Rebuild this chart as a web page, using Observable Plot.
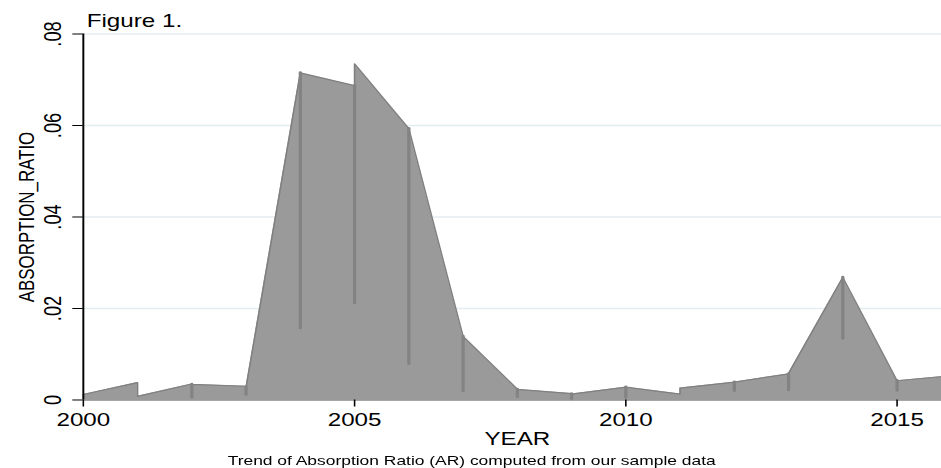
<!DOCTYPE html>
<html><head><meta charset="utf-8">
<script src="https://cdn.jsdelivr.net/npm/d3@7"></script>
<script src="https://cdn.jsdelivr.net/npm/@observablehq/plot@0.6"></script>
<style>
html,body{margin:0;padding:0;overflow:hidden;background:#fff;width:941px;height:468px}
#wrap{position:absolute;left:0;top:0;transform:scaleX(1.3);transform-origin:0 0}
</style></head><body><div id="wrap"></div>
<script>
const years  = [2000, 2001, 2002, 2003, 2004, 2005, 2006, 2007, 2008, 2009, 2010, 2011, 2012, 2013, 2014, 2015, 2016];
const arIn   = [0.0012, 0.0038, 0.0035, 0.0030, 0.0715, 0.0687, 0.0593, 0.0139, 0.0024, 0.0014, 0.0028, 0.0013, 0.0039, 0.0057, 0.0268, 0.0042, 0.0053];
const arLow  = [null,   null,   0.0005, 0.0011, 0.0156, 0.0211, 0.0078, 0.0019, 0.0006, 0.0001, 0.0005, null,   0.0019, 0.0021, 0.0134, 0.0020, null];
const arOut  = [0.0012, 0.0008, 0.0034, 0.0028, 0.0715, 0.0735, 0.0593, 0.0139, 0.0023, 0.0013, 0.0028, 0.0026, 0.0039, 0.0058, 0.0268, 0.0042, 0.0053];

const xTicks = [2000, 2005, 2010, 2015];
const yTicks = [0, 0.02, 0.04, 0.06, 0.08];
const yTickLabels = ["0", ".02", ".04", ".06", ".08"];
const titleText = ["Figure 1."];
const xLabel = ["YEAR"];
const yLabel = ["ABSORPTION_RATIO"];
const captionText = ["Trend of Absorption Ratio (AR) computed from our sample data"];

const path = [];
years.forEach((yr, i) => {
  path.push({x: yr, y: arIn[i]});
  if (arLow[i] != null) path.push({x: yr, y: arLow[i]});
  path.push({x: yr, y: arOut[i]});
});
const spikes = years
  .map((yr, i) => ({x: yr, y1: arLow[i], y2: Math.min(arIn[i], arOut[i])}))
  .filter(d => d.y1 != null);

const chart = Plot.plot({
  width: 731.3,
  height: 468,
  marginLeft: 63.6,
  marginRight: 0,
  marginTop: 33.5,
  marginBottom: 68.5,
  x: {domain: [2000, 2016]},
  y: {domain: [0, 0.08]},
  style: {fontFamily: "'Liberation Sans', Arial, Helvetica, sans-serif", background: "white", overflow: "visible", color: "black"},
  marks: [
    Plot.ruleY(yTicks.slice(1), {stroke: "#e4edf0", strokeWidth: 1.3}),
    Plot.area(path, {x1: "x", y1: () => 0, y2: "y", fill: "#9a9a9a", curve: "linear"}),
    Plot.line(path, {x: "x", y: "y", stroke: "#808080", strokeWidth: 1.2, curve: "linear"}),
    Plot.ruleX(spikes, {x: "x", y1: "y1", y2: "y2", stroke: "#838383", strokeWidth: 2.5, strokeLinecap: "round"}),
    Plot.ruleY([0], {stroke: "#8a8a8a", strokeWidth: 1.6}),
    Plot.ruleX([2000], {stroke: "black", strokeWidth: 1.5}),
    Plot.axisY({ticks: yTicks, tickSize: 8, tickPadding: 9.4, tickRotate: -90, fontSize: 18.2,
      tickFormat: d => yTickLabels[yTicks.indexOf(d)], label: null, strokeWidth: 1}),
    Plot.axisX({ticks: xTicks, tickSize: 7, tickPadding: 6.2, fontSize: 18.6,
      tickFormat: d => String(d), label: null, strokeWidth: 1.2}),
    Plot.text(yLabel, {text: d => d, frameAnchor: "left", dx: -38, rotate: -90, lineAnchor: "bottom", textAnchor: "middle", fontSize: 16.9}),
    Plot.text(xLabel, {text: d => d, frameAnchor: "bottom", dy: 32.2, lineAnchor: "top", textAnchor: "middle", fontSize: 18.6}),
    Plot.text(titleText, {text: d => d, frameAnchor: "top-left", dx: 2.6, dy: -7, lineAnchor: "bottom", textAnchor: "start", fontSize: 18.6}),
    Plot.text(captionText, {text: d => d, frameAnchor: "bottom", dx: -35.1, dy: 65.5, lineAnchor: "bottom", textAnchor: "middle", fontSize: 13.4})
  ]
});
document.getElementById("wrap").appendChild(chart);
</script>
</body></html>
